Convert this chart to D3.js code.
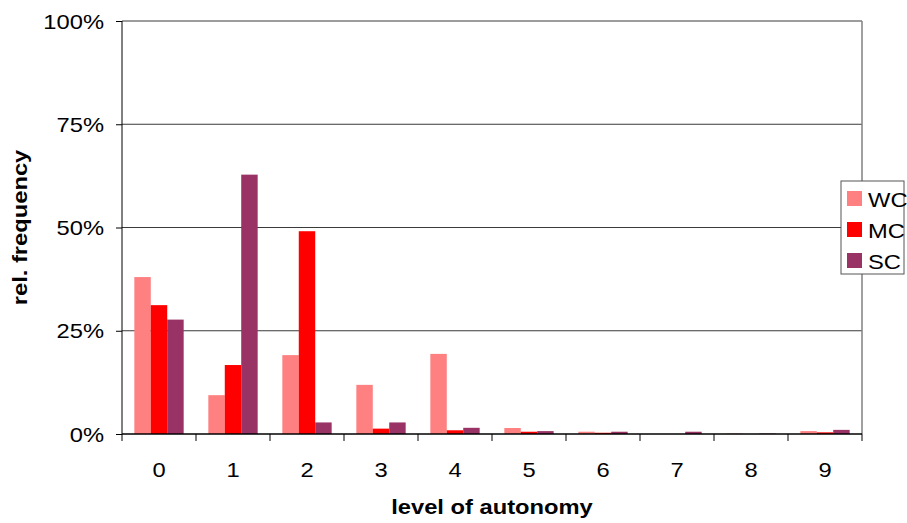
<!DOCTYPE html>
<html>
<head>
  <script src="https://d3js.org/d3.v7.min.js"></script>
  <style>
    body { margin: 0; background: white; font-family: "Liberation Sans", Arial, sans-serif; }
    svg text { fill: #000; }
  </style>
</head>
<body>
  <svg id="chart" width="907" height="523"></svg>
  <script>
    // level of autonomy categories
    const levels = ['0', '1', '2', '3', '4', '5', '6', '7', '8', '9'];
    const seriesNames = ['WC', 'MC', 'SC'];
    const seriesColors = ['#ff8080', '#ff0000', '#993366'];

    // relative frequencies (%)
    const wcValues = [38.0, 9.4, 19.1, 11.9, 19.4, 1.45, 0.55, 0, 0.1, 0.7];
    const mcValues = [31.2, 16.7, 49.1, 1.3, 0.9, 0.55, 0.3, 0, 0, 0.4];
    const scValues = [27.7, 62.8, 2.8, 2.8, 1.5, 0.7, 0.55, 0.55, 0.1, 1.0];

    const yTicks = [0, 25, 50, 75, 100];

    const svg = d3.select('#chart');
    const margin = { left: 122, right: 45, top: 21, bottom: 89 };
    const width = 907 - margin.left - margin.right;
    const height = 523 - margin.top - margin.bottom;
    const stretch = 1.13; // the original's text runs wider than Liberation Sans

    const g = svg.append('g').attr('transform', `translate(${margin.left},${margin.top})`);

    // group: 3 bars, gap 150% of a bar width
    const x0 = d3.scaleBand().domain(levels).range([0, width]);
    const bw = x0.bandwidth() / 4.5;
    const xs = d3.scaleBand().domain(seriesNames).range([0, bw * 3]);

    const y = d3.scaleLinear().domain([0, 100]).range([height, 0]);

    // put a stretched text at (x, y)
    function label(parent, tx, ty, str, anchor, rot) {
      return parent.append('text')
        .attr('transform', `translate(${tx},${ty})` + (rot ? ` rotate(${rot})` : '') + ` scale(${stretch},1)`)
        .attr('text-anchor', anchor)
        .attr('font-size', 21)
        .text(str);
    }

    // gridlines
    g.append('g').selectAll('line')
      .data(yTicks.filter(d => d > 0))
      .join('line')
      .attr('x1', 0).attr('x2', width)
      .attr('y1', d => y(d)).attr('y2', d => y(d))
      .attr('stroke', '#3a3a3a').attr('stroke-width', 1);

    // right border of plot area
    g.append('line')
      .attr('x1', width).attr('x2', width).attr('y1', 0).attr('y2', height)
      .attr('stroke', '#808080').attr('stroke-width', 1.5);

    const series = [wcValues, mcValues, scValues];
    series.forEach((vals, si) => {
      g.append('g').selectAll('rect')
        .data(vals)
        .join('rect')
        .attr('x', (d, i) => x0(levels[i]) + bw * 0.75 + xs(seriesNames[si]))
        .attr('y', d => y(d))
        .attr('width', xs.bandwidth())
        .attr('height', d => height - y(d))
        .attr('fill', seriesColors[si]);
    });

    // y axis
    const yAxis = g.append('g')
      .call(d3.axisLeft(y).tickValues(yTicks).tickFormat('').tickSize(6));
    yAxis.select('.domain').attr('stroke', '#000').attr('d', `M0,0V${height}`);
    yAxis.selectAll('.tick line').attr('stroke', '#000');
    yTicks.forEach(t => label(g, -18, y(t) + 7.5, t + '%', 'end'));

    // x axis: ticks at category boundaries
    const xAxisG = g.append('g').attr('transform', `translate(0,${height})`);
    xAxisG.append('line').attr('x1', 0).attr('x2', width).attr('y1', 0).attr('y2', 0)
      .attr('stroke', '#000').attr('stroke-width', 1.5);
    xAxisG.selectAll('line.tk')
      .data(levels.concat(['end']))
      .join('line')
      .attr('class', 'tk')
      .attr('x1', (d, i) => i * x0.step()).attr('x2', (d, i) => i * x0.step())
      .attr('y1', 0).attr('y2', 7)
      .attr('stroke', '#000');
    levels.forEach(d => label(xAxisG, x0(d) + x0.bandwidth() / 2, 42.5, d, 'middle'));

    // axis titles
    label(svg, margin.left + width / 2, 514, 'level of autonomy', 'middle').attr('font-weight', 'bold');
    label(svg, 27, margin.top + height / 2, 'rel. frequency', 'middle', -90).attr('font-weight', 'bold');

    // legend
    const legend = svg.append('g').attr('transform', 'translate(841,181)');
    legend.append('rect')
      .attr('width', 63).attr('height', 93)
      .attr('fill', 'white').attr('stroke', '#555').attr('stroke-width', 1);
    seriesNames.forEach((name, i) => {
      legend.append('rect')
        .attr('x', 6).attr('y', 10 + i * 31)
        .attr('width', 15).attr('height', 15)
        .attr('fill', seriesColors[i]);
      label(legend, 27, 25.5 + i * 31, name, 'start');
    });
  </script>
</body>
</html>
